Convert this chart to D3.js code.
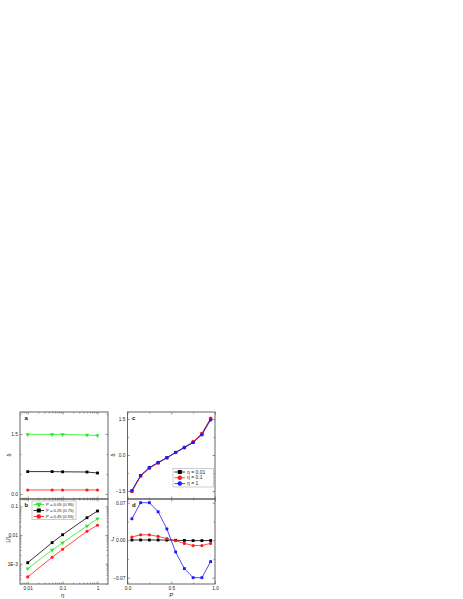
<!DOCTYPE html>
<html>
<head>
<meta charset="utf-8" />
<style>
  body { margin: 0; background: #fff; }
  svg text { font-family: "Liberation Sans", Arial, sans-serif; }
</style>
</head>
<body>
<svg width="463" height="599"></svg>
<script src="https://d3js.org/d3.v7.min.js"></script>
<script>
  // ---- data ----
  var etaVals = [0.01, 0.05, 0.1, 0.5, 1];
  var deltaP05 = [1.49, 1.49, 1.49, 1.475, 1.46];
  var deltaP25 = [0.56, 0.56, 0.555, 0.55, 0.525];
  var deltaP45 = [0.1, 0.1, 0.1, 0.1, 0.1];
  var absJP05 = [6.7e-4, 3.0e-3, 5.4e-3, 0.0206, 0.037];
  var absJP25 = [1.08e-3, 5.4e-3, 0.0102, 0.04, 0.0686];
  var absJP45 = [3.44e-4, 1.67e-3, 3.18e-3, 0.0135, 0.0219];
  var legendB = ["P = 0.05 (0.95)", "P = 0.25 (0.75)", "P = 0.45 (0.55)"];

  var pVals = [0.05, 0.15, 0.25, 0.35, 0.45, 0.55, 0.65, 0.75, 0.85, 0.95];
  var deltaEta001 = [-1.5, -0.86, -0.53, -0.32, -0.11, 0.11, 0.32, 0.53, 0.87, 1.5];
  var deltaEta01 = [-1.52, -0.88, -0.55, -0.33, -0.12, 0.11, 0.32, 0.55, 0.9, 1.53];
  var deltaEta1 = [-1.48, -0.85, -0.52, -0.31, -0.11, 0.1, 0.3, 0.52, 0.84, 1.46];
  var JEta001 = [0.0004, 0.0004, 0.0004, 0.0003, 0.0002, -0.0002, -0.0005, -0.0008, -0.0008, -0.0006];
  var JEta01 = [0.006, 0.01, 0.01, 0.007, 0.003, -0.001, -0.006, -0.01, -0.01, -0.006];
  var JEta1 = [0.04, 0.07, 0.07, 0.053, 0.021, -0.022, -0.053, -0.07, -0.07, -0.04];
  var legendC = ["\u03b7 = 0.01", "\u03b7 = 0.1", "\u03b7 = 1"];

  var svg = d3.select("svg");
  var frameColor = "#555";
  var fs = 4.8;
  var green = "#22ee22", red = "#ff1a1a", blue = "#1a1aff";

  // panel boxes
  var colA = { x0: 20, x1: 108 }, colC = { x0: 127.5, x1: 215 };
  var rowTop = { y0: 412, y1: 499 }, rowBot = { y0: 499, y1: 584 };

  var xEta = d3.scaleLog().domain([0.006, 2]).range([colA.x0, colA.x1]);
  var yA = d3.scaleLinear().domain([-0.125, 2.05]).range([rowTop.y1, rowTop.y0]);
  var yB = d3.scaleLog().domain([1.95e-4, 0.18]).range([rowBot.y1, rowBot.y0]);
  var xP = d3.scaleLinear().domain([0, 1]).range([colC.x0, colC.x1]);
  var yC = d3.scaleLinear().domain([-1.83, 1.79]).range([rowTop.y1, rowTop.y0]);
  var yD = d3.scaleLinear().domain([-0.0818, 0.0769]).range([rowBot.y1, rowBot.y0]);

  var logMinor = [];
  [0.001, 0.01, 0.1, 1].forEach(function (d) {
    for (var k = 2; k <= 9; k++) logMinor.push(d * k);
  });
  var logMinorY = [];
  [0.0001, 0.001, 0.01, 0.1].forEach(function (d) {
    for (var k = 2; k <= 9; k++) logMinorY.push(d * k);
  });

  function inRange(scale, vals) {
    var dm = scale.domain();
    var lo = Math.min(dm[0], dm[1]), hi = Math.max(dm[0], dm[1]);
    return vals.filter(function (v) { return v > lo && v < hi; });
  }

  function axisGroup(axis, tx, ty) {
    var g = svg.append("g").attr("transform", "translate(" + tx + "," + ty + ")").call(axis);
    g.select(".domain").remove();
    g.selectAll("line").attr("stroke", frameColor).attr("stroke-width", 0.6);
    g.selectAll("text").attr("font-size", fs).attr("fill", "#222").attr("font-family", "Liberation Sans, Arial, sans-serif");
    return g;
  }

  function drawPanel(opt) {
    var x = opt.x, y = opt.y;
    var xr = x.range(), yr = y.range();
    // bottom / top
    axisGroup(d3.axisBottom(x).tickValues(opt.xMajor).tickSize(-2.5).tickPadding(2.8)
      .tickFormat(opt.xLabels ? opt.xFormat : ""), 0, yr[0]);
    axisGroup(d3.axisBottom(x).tickValues(inRange(x, opt.xMinor)).tickSize(-1.4).tickFormat(""), 0, yr[0]);
    axisGroup(d3.axisTop(x).tickValues(opt.xMajor).tickSize(-2.5).tickFormat(""), 0, yr[1]);
    axisGroup(d3.axisTop(x).tickValues(inRange(x, opt.xMinor)).tickSize(-1.4).tickFormat(""), 0, yr[1]);
    // left / right
    axisGroup(d3.axisLeft(y).tickValues(opt.yMajor).tickSize(-2.5).tickPadding(2.2).tickFormat(opt.yFormat), xr[0], 0);
    axisGroup(d3.axisLeft(y).tickValues(inRange(y, opt.yMinor)).tickSize(-1.4).tickFormat(""), xr[0], 0);
    axisGroup(d3.axisRight(y).tickValues(opt.yMajor).tickSize(-2.5).tickFormat(""), xr[1], 0);
    axisGroup(d3.axisRight(y).tickValues(inRange(y, opt.yMinor)).tickSize(-1.4).tickFormat(""), xr[1], 0);
    svg.append("rect")
      .attr("x", xr[0]).attr("y", yr[1])
      .attr("width", xr[1] - xr[0]).attr("height", yr[0] - yr[1])
      .attr("fill", "none").attr("stroke", frameColor).attr("stroke-width", 0.9);
    svg.append("text").attr("x", xr[0] + 4.5).attr("y", yr[1] + 7.5)
      .attr("font-size", 6).attr("font-weight", "bold").attr("fill", "#111").text(opt.letter);
  }

  function symbolPath(type, size) {
    var t = type === "square" ? d3.symbolSquare : type === "tri" ? d3.symbolTriangle : d3.symbolCircle;
    return d3.symbol().type(t).size(size)();
  }

  function drawSeries(x, y, xs, ys, color, sym, size) {
    var pts = xs.map(function (d, i) { return [d, ys[i]]; });
    var line = d3.line().x(function (d) { return x(d[0]); }).y(function (d) { return y(d[1]); });
    svg.append("path").datum(pts).attr("d", line)
      .attr("fill", "none").attr("stroke", color).attr("stroke-width", 0.8);
    svg.append("g").selectAll("path").data(pts).enter().append("path")
      .attr("d", symbolPath(sym, size))
      .attr("transform", function (d) {
        return "translate(" + x(d[0]) + "," + y(d[1]) + ")" + (sym === "tri" ? " rotate(180)" : "");
      })
      .attr("fill", color);
  }

  var fmtLogY = function (d) { return d === 0.1 ? "0.1" : d === 0.01 ? "0.01" : "1E-3"; };

  // panel a
  drawPanel({ x: xEta, y: yA, xMajor: [0.01, 0.1, 1], xMinor: logMinor, xLabels: false,
    yMajor: [0, 1.5], yMinor: [0.5, 1, 2], yFormat: d3.format(".1f"), letter: "a" });
  drawSeries(xEta, yA, etaVals, deltaP05, green, "tri", 8);
  drawSeries(xEta, yA, etaVals, deltaP25, "#000", "square", 8);
  drawSeries(xEta, yA, etaVals, deltaP45, red, "circle", 8);

  // panel b
  drawPanel({ x: xEta, y: yB, xMajor: [0.01, 0.1, 1], xMinor: logMinor, xLabels: true,
    xFormat: function (d) { return d === 1 ? "1" : String(d); },
    yMajor: [0.001, 0.01, 0.1], yMinor: logMinorY, yFormat: fmtLogY, letter: "b" });
  drawSeries(xEta, yB, etaVals, absJP25, "#000", "square", 8);
  drawSeries(xEta, yB, etaVals, absJP05, green, "tri", 8);
  drawSeries(xEta, yB, etaVals, absJP45, red, "circle", 8);

  // panel c
  drawPanel({ x: xP, y: yC, xMajor: [0, 0.5, 1], xMinor: [0.25, 0.75], xLabels: false,
    yMajor: [-1.5, 0, 1.5], yMinor: [-0.75, 0.75], yFormat: d3.format(".1f"), letter: "c" });
  drawSeries(xP, yC, pVals, deltaEta001, "#000", "square", 9);
  drawSeries(xP, yC, pVals, deltaEta01, red, "circle", 9);
  drawSeries(xP, yC, pVals, deltaEta1, blue, "circle", 9);

  // panel d
  drawPanel({ x: xP, y: yD, xMajor: [0, 0.5, 1], xMinor: [0.25, 0.75], xLabels: true,
    xFormat: d3.format(".1f"),
    yMajor: [-0.07, 0, 0.07], yMinor: [-0.035, 0.035], yFormat: d3.format(".2f"), letter: "d" });
  drawSeries(xP, yD, pVals, JEta001, "#000", "square", 8);
  drawSeries(xP, yD, pVals, JEta01, red, "circle", 8);
  drawSeries(xP, yD, pVals, JEta1, blue, "square", 8);

  // legends
  function legend(x0, y0, w, h, items, colors, syms, rowH, fsz) {
    svg.append("rect").attr("x", x0).attr("y", y0).attr("width", w).attr("height", h)
      .attr("fill", "#fff").attr("stroke", "#aaa").attr("stroke-width", 0.6);
    items.forEach(function (t, i) {
      var cy = y0 + 3.5 + i * rowH;
      svg.append("line").attr("x1", x0 + 1.5).attr("x2", x0 + 12).attr("y1", cy).attr("y2", cy)
        .attr("stroke", colors[i]).attr("stroke-width", 0.8);
      svg.append("path").attr("d", symbolPath(syms[i], 16))
        .attr("transform", "translate(" + (x0 + 6.8) + "," + cy + ")" + (syms[i] === "tri" ? " rotate(180)" : ""))
        .attr("fill", colors[i]);
      svg.append("text").attr("x", x0 + 14).attr("y", cy + 1.6)
        .attr("font-size", fsz).attr("fill", "#222").text(t);
    });
  }
  legend(32, 501, 44, 18.5, legendB, [green, "#000", red], ["tri", "square", "circle"], 6, 4.2);
  legend(173, 468.5, 40.5, 18.5, legendC, ["#000", red, blue], ["square", "circle", "circle"], 5.8, 5);

  // axis titles
  function rotLabel(x, y, t, style) {
    svg.append("text").attr("transform", "translate(" + x + "," + y + ") rotate(-90)")
      .attr("text-anchor", "middle").attr("font-size", 5.5).attr("font-style", style || "normal")
      .attr("fill", "#222").text(t);
  }
  rotLabel(11, 455, "\u03b4");
  rotLabel(114.5, 455, "\u03b4");
  rotLabel(9.5, 540, "|J|", "italic");
  svg.append("text").attr("x", 112.5).attr("y", 541).attr("text-anchor", "middle")
    .attr("font-size", 5.5).attr("font-style", "italic").attr("fill", "#222").text("J");
  svg.append("text").attr("x", xEta(0.1)).attr("y", 597).attr("text-anchor", "middle")
    .attr("font-size", 6).attr("font-style", "italic").attr("fill", "#222").text("\u03b7");
  svg.append("text").attr("x", xP(0.5)).attr("y", 597).attr("text-anchor", "middle")
    .attr("font-size", 6).attr("font-style", "italic").attr("fill", "#222").text("P");
</script>
</body>
</html>
